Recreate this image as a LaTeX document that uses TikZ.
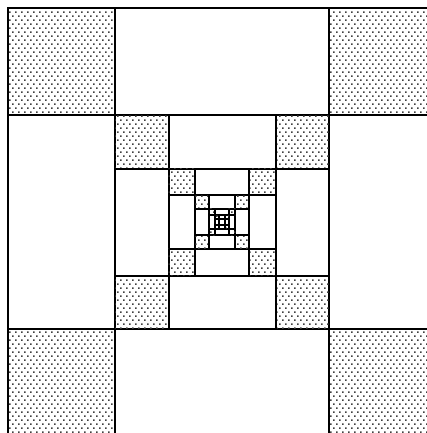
\documentclass[tikz,border=0pt]{standalone}
\usetikzlibrary{patterns}
\pgfdeclarepatternformonly{bigdots}{\pgfqpoint{-1pt}{-1pt}}{\pgfqpoint{7pt}{9pt}}{\pgfqpoint{6pt}{8pt}}{%
  \pgfpathrectangle{\pgfqpoint{0pt}{0pt}}{\pgfqpoint{1.5pt}{1.5pt}}%
  \pgfpathrectangle{\pgfqpoint{3pt}{4pt}}{\pgfqpoint{1.5pt}{1.5pt}}%
  \pgfusepath{fill}}
\begin{document}
\begin{tikzpicture}[x=1pt,y=-1pt,line width=2pt,
  shade/.style={pattern=bigdots,pattern color=black!75}]
\useasboundingbox (0,0) rectangle (427,433);
\clip (0,0) rectangle (427,433);
\foreach \lev in {0,...,5} {
  \pgfmathsetmacro\s{428/2^\lev}
  \pgfmathsetmacro\o{222-\s/2}
  \pgfmathsetmacro\q{\s/4}
  \pgfmathsetmacro\a{\o+\q}
  \pgfmathsetmacro\b{\o+3*\q}
  \pgfmathsetmacro\e{\o+\s}
  \fill[shade] (\o,\o) rectangle (\a,\a);
  \fill[shade] (\b,\o) rectangle (\e,\a);
  \fill[shade] (\o,\b) rectangle (\a,\e);
  \fill[shade] (\b,\b) rectangle (\e,\e);
  \draw (\o,\a) -- (\e,\a);
  \draw (\o,\b) -- (\e,\b);
  \draw (\a,\o) -- (\a,\e);
  \draw (\b,\o) -- (\b,\e);
}
\draw (8,8) rectangle (436,436);
\end{tikzpicture}
\end{document}
